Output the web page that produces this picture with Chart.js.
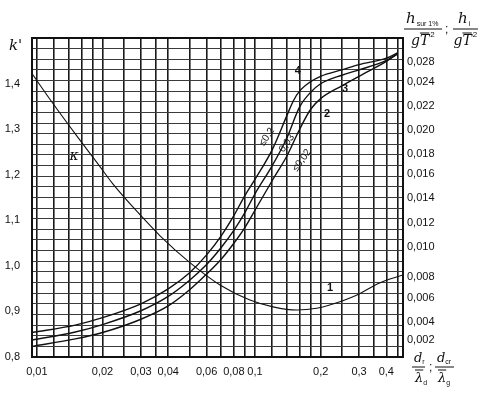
<!DOCTYPE html>
<html><head><meta charset="utf-8">
<script src="https://cdn.jsdelivr.net/npm/chart.js@4.4.1/dist/chart.umd.min.js"></script>
<style>html,body{margin:0;padding:0;background:#fff}canvas{display:block}</style>
</head><body>
<canvas id="c" width="492" height="394"></canvas>
<script>
// ---- data ----
const xGridValues = [0.01,0.012,0.014,0.016,0.018,0.02,0.025,0.03,0.035,0.04,0.05,0.06,0.07,0.08,0.09,0.1,0.12,0.14,0.16,0.18,0.2,0.25,0.3,0.35,0.4,0.45];
const xLabelValues = [0.01,0.02,0.03,0.04,0.06,0.08,0.1,0.2,0.3,0.4];
const xLabelTexts  = ['0,01','0,02','0,03','0,04','0,06','0,08','0,1','0,2','0,3','0,4'];
const kTickValues = [0.8,0.9,1.0,1.1,1.2,1.3,1.4];
const kTickTexts  = ['0,8','0,9','1,0','1,1','1,2','1,3','1,4'];
const rightTickValues = [0.0016,0.0033,0.00555,0.00753,0.01035,0.01261,0.01496,0.01722,0.0191,0.02135,0.02361,0.02587,0.02775];
const rightTickTexts  = ['0,002','0,004','0,006','0,008','0,010','0,012','0,014','0,016','0,018','0,020','0,022','0,024','0,028'];

const kappaX = [0.0095,0.0115,0.0153,0.0189,0.0223,0.03,0.0367,0.0503,0.0691,0.0948,0.121,0.156,0.192,0.22,0.29,0.37,0.477];
const kappaY = [1.422,1.365,1.284,1.226,1.180,1.110,1.066,1.007,0.958,0.925,0.910,0.903,0.907,0.914,0.935,0.962,0.98];

const curve4X = [0.0095,0.015,0.02,0.03,0.04,0.05,0.06,0.07,0.08,0.09,0.1,0.12,0.14,0.15,0.16,0.18,0.2,0.25,0.3,0.4,0.45];
const curve4Y = [0.0023,0.0030,0.0037,0.0050,0.0064,0.0079,0.0096,0.0114,0.0133,0.0152,0.0167,0.0195,0.0227,0.0241,0.0250,0.0259,0.0264,0.0270,0.0275,0.0281,0.0286];
const curve3X = [0.0095,0.015,0.02,0.03,0.04,0.05,0.06,0.07,0.08,0.09,0.1,0.12,0.14,0.16,0.18,0.2,0.25,0.3,0.4,0.45];
const curve3Y = [0.0016,0.00235,0.00305,0.00435,0.0057,0.0072,0.0087,0.0103,0.0119,0.0136,0.01535,0.0180,0.0206,0.0235,0.0249,0.0257,0.0265,0.0270,0.0279,0.0285];
const curve2X = [0.0095,0.015,0.02,0.03,0.04,0.05,0.06,0.07,0.08,0.09,0.1,0.12,0.14,0.16,0.18,0.2,0.25,0.3,0.4,0.45];
const curve2Y = [0.0010,0.0017,0.0023,0.00355,0.0048,0.0063,0.0078,0.0092,0.0107,0.0122,0.0138,0.0166,0.0189,0.0214,0.0233,0.0243,0.0255,0.0264,0.0278,0.0285];

const toPts = (xs, ys) => xs.map((x, i) => ({x, y: ys[i]}));

const notes = [
  {t:'κ', x:0.0148, y:1.24, axis:'yk', rot:0, font:'italic 14px "DejaVu Serif"'},
  {t:'1', x:0.221, y:0.952, axis:'yk', rot:0, font:'bold 11px "Liberation Sans"'},
  {t:'2', x:0.214, y:0.0229, axis:'yr', rot:0, font:'bold 11px "Liberation Sans"'},
  {t:'3', x:0.259, y:0.0252, axis:'yr', rot:0, font:'bold 11px "Liberation Sans"'},
  {t:'4', x:0.157, y:0.0269, axis:'yr', rot:0, font:'bold 11px "Liberation Sans"'},
  {t:'≤0,2', x:0.1135, y:0.0207, axis:'yr', rot:-55, font:'10px "Liberation Sans"'},
  {t:'0,03', x:0.140, y:0.0201, axis:'yr', rot:-55, font:'10px "Liberation Sans"'},
  {t:'≤0,02', x:0.164, y:0.0185, axis:'yr', rot:-55, font:'10px "Liberation Sans"'}
];

const framePlugin = {
  id:'frame',
  afterDatasetsDraw(chart){
    const {ctx, chartArea:a, scales} = chart;
    ctx.save();
    ctx.strokeStyle = '#111'; ctx.lineWidth = 2;
    ctx.strokeRect(a.left, a.top, a.right - a.left, a.bottom - a.top);
    ctx.fillStyle = '#111';
    ctx.textAlign = 'center'; ctx.textBaseline = 'middle';
    notes.forEach(n => {
      const px = scales.x.getPixelForValue(n.x);
      const py = scales[n.axis].getPixelForValue(n.y);
      ctx.save();
      ctx.translate(px, py);
      ctx.rotate(n.rot * Math.PI / 180);
      ctx.font = n.font;
      ctx.fillText(n.t, 0, 0);
      ctx.restore();
    });
    ctx.restore();
  },
  afterDraw(chart){
    const ctx = chart.ctx;
    ctx.save();
    ctx.fillStyle = '#111'; ctx.strokeStyle = '#111'; ctx.lineWidth = 1;
    ctx.textBaseline = 'alphabetic'; ctx.textAlign = 'left';
    // left title
    ctx.font = 'italic 15px "DejaVu Serif"';
    ctx.fillText("k'", 9, 50);
    // top-right fractions
    const frac = (cx, num, sub, barL, barR) => {
      ctx.font = 'italic 15px "DejaVu Serif"';
      ctx.textAlign = 'left';
      ctx.fillText(num, cx, 23);
      const w = ctx.measureText(num).width;
      ctx.font = '7px "Liberation Sans"';
      ctx.fillText(sub, cx + w + 1, 26);
      ctx.beginPath(); ctx.moveTo(barL, 29); ctx.lineTo(barR, 29); ctx.stroke();
      const gx = (barL + barR) / 2 - 12;
      ctx.font = 'italic 14px "DejaVu Serif"';
      ctx.fillText('gT', gx, 45);
      const gw = ctx.measureText('g').width, tw = ctx.measureText('T').width;
      ctx.beginPath(); ctx.moveTo(gx + gw, 33); ctx.lineTo(gx + gw + tw, 33); ctx.stroke();
      ctx.font = '8px "Liberation Sans"';
      ctx.fillText('2', gx + gw + tw + 1, 37);
    };
    frac(406, 'h', 'sur 1%', 404, 442);
    ctx.font = '12px "Liberation Sans"'; ctx.fillText(';', 445, 33);
    frac(458, 'h', 'i', 453, 478);
    // bottom-right fraction
    const frac2 = (x, sub1, sub2, barL, barR) => {
      ctx.font = 'italic 13px "DejaVu Serif"';
      ctx.fillText('d', x, 362);
      const dw = ctx.measureText('d').width;
      ctx.font = '7px "Liberation Sans"';
      ctx.fillText(sub1, x + dw, 364);
      ctx.beginPath(); ctx.moveTo(barL, 367); ctx.lineTo(barR, 367); ctx.stroke();
      ctx.font = 'italic 13px "DejaVu Serif"';
      ctx.fillText('λ', x + 1, 382);
      const lw = ctx.measureText('λ').width;
      ctx.beginPath(); ctx.moveTo(x + 1, 370); ctx.lineTo(x + 1 + lw, 370); ctx.stroke();
      ctx.font = '7px "Liberation Sans"';
      ctx.fillText(sub2, x + 1 + lw, 385);
    };
    frac2(414, 'r', 'd', 412, 425);
    ctx.font = '12px "Liberation Sans"'; ctx.fillText(';', 429, 371);
    frac2(437, 'cr', 'g', 435, 454);
    ctx.restore();
  }
};

const lineStyle = {showLine:true, pointRadius:0, borderColor:'#111', borderWidth:1.4, cubicInterpolationMode:'monotone', fill:false};

new Chart(document.getElementById('c'), {
  type:'scatter',
  data:{datasets:[
    Object.assign({label:'κ', data:toPts(kappaX, kappaY), yAxisID:'yk'}, lineStyle, {borderWidth:1.1}),
    Object.assign({label:'4', data:toPts(curve4X, curve4Y), yAxisID:'yr'}, lineStyle),
    Object.assign({label:'3', data:toPts(curve3X, curve3Y), yAxisID:'yr'}, lineStyle),
    Object.assign({label:'2', data:toPts(curve2X, curve2Y), yAxisID:'yr'}, lineStyle)
  ]},
  options:{
    responsive:false, animation:false,
    layout:{padding:{top:38, left:0, right:0, bottom:0}},
    plugins:{legend:{display:false}, tooltip:{enabled:false}, title:{display:false}},
    scales:{
      x:{type:'logarithmic', min:0.0095, max:0.477,
        afterBuildTicks(s){ s.ticks = xGridValues.map(v => ({value:v})); },
        afterFit(s){ s.height = 37; },
        grid:{color:'#1a1a1a', lineWidth:1.6, drawTicks:false},
        border:{display:false},
        ticks:{autoSkip:false, maxRotation:0, padding:8, color:'#111',
          font:{family:'"Liberation Sans"', size:11},
          callback(v){ const i = xLabelValues.findIndex(q => Math.abs(q - v) < 1e-9); return i >= 0 ? xLabelTexts[i] : ''; }}
      },
      yk:{type:'linear', position:'left', min:0.8, max:1.5,
        afterBuildTicks(s){ s.ticks = kTickValues.map(v => ({value:v})); },
        afterFit(s){ s.width = 32; },
        grid:{display:false, drawTicks:false}, border:{display:false},
        ticks:{padding:12, color:'#111', font:{family:'"Liberation Sans"', size:11},
          callback(v){ const i = kTickValues.findIndex(q => Math.abs(q - v) < 1e-9); return i >= 0 ? kTickTexts[i] : ''; }}
      },
      yr:{type:'linear', position:'right', min:0, max:0.030,
        afterBuildTicks(s){ s.ticks = rightTickValues.map(v => ({value:v})); },
        afterFit(s){ s.width = 89; },
        grid:{display:false, drawTicks:false}, border:{display:false},
        ticks:{padding:4, color:'#111', font:{family:'"Liberation Sans"', size:11},
          callback(v){ const i = rightTickValues.findIndex(q => Math.abs(q - v) < 1e-9); return i >= 0 ? rightTickTexts[i] : ''; }}
      },
      yg:{type:'linear', position:'right', min:0, max:0.030,
        afterBuildTicks(s){ const t = []; for (let i = 0; i <= 30; i++) t.push({value:i / 1000}); s.ticks = t; },
        afterFit(s){ s.width = 0; },
        grid:{color:'#3a3a3a', lineWidth:1.1, drawTicks:false}, border:{display:false},
        ticks:{display:false}
      }
    }
  },
  plugins:[framePlugin]
});
</script>
</body></html>
